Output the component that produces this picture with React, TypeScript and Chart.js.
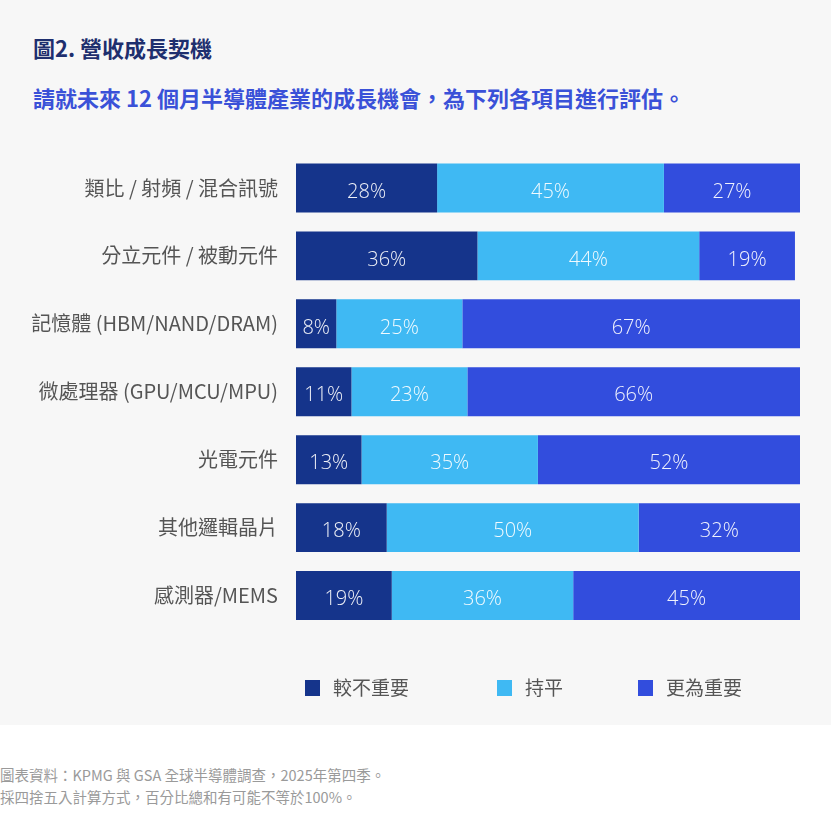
import React, { useEffect, useRef } from "react";
import { Chart, registerables } from "chart.js";

Chart.register(...registerables);

// Survey categories and the share of answers for each rating
const categories = [
  "類比 / 射頻 / 混合訊號",
  "分立元件 / 被動元件",
  "記憶體 (HBM/NAND/DRAM)",
  "微處理器 (GPU/MCU/MPU)",
  "光電元件",
  "其他邏輯晶片",
  "感測器/MEMS",
];
const seriesNames = ["較不重要", "持平", "更為重要"];
const lessImportant = [28, 36, 8, 11, 13, 18, 19];
const unchanged = [45, 44, 25, 23, 35, 50, 36];
const moreImportant = [27, 19, 67, 66, 52, 32, 45];
const seriesColors = ["#15348b", "#3fb9f3", "#324ddd"];

const titleText = "圖2. 營收成長契機";
const subtitleText = "請就未來 12 個月半導體產業的成長機會，為下列各項目進行評估。";
const noteLines = [
  "圖表資料：KPMG 與 GSA 全球半導體調查，2025年第四季。",
  "採四捨五入計算方式，百分比總和有可能不等於100%。",
];

const CJK = '"Noto Sans CJK TC", "Noto Sans", sans-serif';
const NUM = '"Open Sans", "Noto Sans", sans-serif';

// Percent labels inside each stacked segment
const segmentLabels = {
  id: "segmentLabels",
  afterDatasetsDraw(chart: any) {
    const { ctx } = chart;
    ctx.save();
    ctx.font = `300 20px ${NUM}`;
    ctx.fillStyle = "rgba(255,255,255,0.93)";
    ctx.textAlign = "center";
    ctx.textBaseline = "middle";
    chart.data.datasets.forEach((ds: any, di: number) => {
      const meta = chart.getDatasetMeta(di);
      meta.data.forEach((el: any, i: number) => {
        const v = ds.data[i];
        ctx.fillText(`${v}%`, (el.x + el.base) / 2, el.y + 4);
      });
    });
    ctx.restore();
  },
};

// Legend row drawn under the bars
const legendOffsets = [9, 201, 342];
const bottomLegend = {
  id: "bottomLegend",
  afterDraw(chart: any) {
    const { ctx, chartArea } = chart;
    const cy = chartArea.bottom + 58.5;
    ctx.save();
    ctx.font = `19px ${CJK}`;
    ctx.textBaseline = "middle";
    ctx.textAlign = "left";
    chart.data.datasets.forEach((ds: any, i: number) => {
      const x = chartArea.left + legendOffsets[i];
      ctx.fillStyle = ds.backgroundColor;
      ctx.fillRect(x, cy - 8, 15, 16);
      ctx.fillStyle = "#555555";
      ctx.fillText(ds.label, x + 28, cy);
    });
    ctx.restore();
  },
};

export default function App() {
  const canvasRef = useRef<HTMLCanvasElement | null>(null);

  useEffect(() => {
    document.body.style.margin = "0";
    const canvas = canvasRef.current;
    if (!canvas) return;
    const chart = new Chart(canvas, {
      type: "bar",
      data: {
        labels: categories,
        datasets: [lessImportant, unchanged, moreImportant].map((d, i) => ({
          label: seriesNames[i],
          data: d,
          backgroundColor: seriesColors[i],
          borderWidth: 0,
          barPercentage: 0.72,
          categoryPercentage: 1,
        })),
      },
      options: {
        indexAxis: "y",
        animation: false,
        responsive: false,
        maintainAspectRatio: false,
        layout: { padding: { top: 13.5, bottom: 95.5, right: 31, left: 0 } },
        plugins: {
          legend: { display: false },
          tooltip: { enabled: false },
        },
        scales: {
          x: { stacked: true, min: 0, max: 100, display: false },
          y: {
            stacked: true,
            grid: { display: false, drawTicks: false },
            border: { display: false },
            ticks: {
              color: "#555555",
              font: { family: CJK, size: 20 },
              padding: 18,
            },
            afterFit(scale: any) {
              scale.width = 296;
            },
          },
        },
      },
      plugins: [segmentLabels, bottomLegend],
    });
    return () => chart.destroy();
  }, []);

  return (
    <div style={{ position: "relative", width: 831, height: 820, background: "#ffffff" }}>
      <div style={{ position: "absolute", left: 0, top: 0, width: 831, height: 725, background: "#f7f7f7" }} />
      <div
        style={{
          position: "absolute",
          left: 33,
          top: 35,
          fontFamily: CJK,
          fontSize: 22,
          lineHeight: "24px",
          fontWeight: 700,
          color: "#1e2f6e",
          whiteSpace: "nowrap",
        }}
      >
        {titleText}
      </div>
      <div
        style={{
          position: "absolute",
          left: 33,
          top: 85,
          fontFamily: CJK,
          fontSize: 22,
          lineHeight: "24px",
          fontWeight: 700,
          color: "#3a51d8",
          whiteSpace: "nowrap",
        }}
      >
        {subtitleText}
      </div>
      <canvas
        ref={canvasRef}
        width={831}
        height={601}
        style={{ position: "absolute", left: 0, top: 124, width: 831, height: 601 }}
      />
      {noteLines.map((t, i) => (
        <div
          key={i}
          style={{
            position: "absolute",
            left: 0,
            top: 767 + i * 22,
            fontFamily: CJK,
            fontSize: 14.5,
            lineHeight: "16px",
            color: "#9a9a9a",
            whiteSpace: "nowrap",
          }}
        >
          {t}
        </div>
      ))}
    </div>
  );
}
